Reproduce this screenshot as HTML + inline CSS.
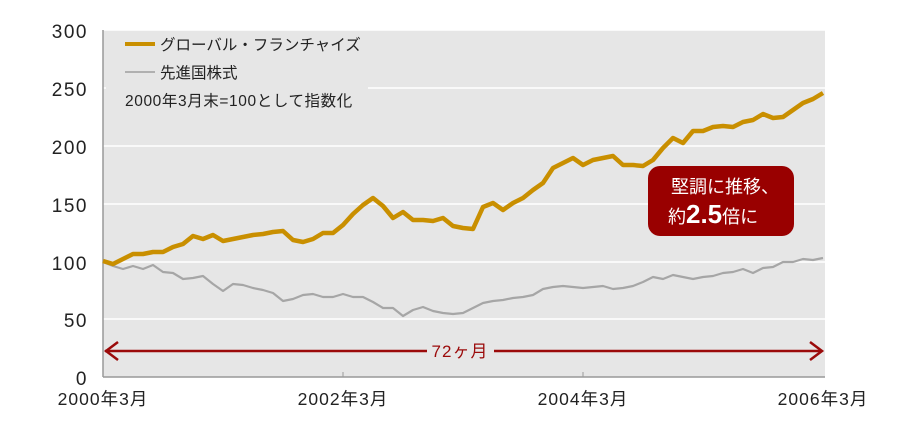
<!DOCTYPE html>
<html><head><meta charset="utf-8"><style>
html,body{margin:0;padding:0;background:#fff;width:920px;height:430px;overflow:hidden}
text{font-family:"Liberation Sans","Noto Sans CJK JP",sans-serif}
</style></head><body>
<svg width="920" height="430" viewBox="0 0 920 430" xmlns="http://www.w3.org/2000/svg">
<rect x="103" y="30" width="722" height="347" fill="#e6e6e6"/>
<g stroke="#fff" stroke-width="1.5">
<line x1="103" y1="30" x2="825" y2="30"/>
<line x1="103" y1="88" x2="825" y2="88"/>
<line x1="103" y1="146" x2="825" y2="146"/>
<line x1="103" y1="204" x2="825" y2="204"/>
<line x1="103" y1="262" x2="825" y2="262"/>
<line x1="103" y1="319" x2="825" y2="319"/>
</g>
<rect x="106" y="32" width="262" height="80" fill="#e6e6e6"/>
<line x1="103" y1="30" x2="103" y2="377" stroke="#999" stroke-width="1.5"/>
<line x1="103" y1="377" x2="825" y2="377" stroke="#999" stroke-width="1.5"/>
<g stroke="#999" stroke-width="1"><line x1="343" y1="372" x2="343" y2="377"/><line x1="583" y1="372" x2="583" y2="377"/></g>
<g font-size="19" fill="#222" text-anchor="end" letter-spacing="1.5">
<text x="88" y="38">300</text><text x="88" y="96">250</text><text x="88" y="154">200</text>
<text x="88" y="212">150</text><text x="88" y="270">100</text><text x="88" y="327">50</text><text x="88" y="385">0</text>
</g>
<g font-size="17.5" fill="#222" text-anchor="middle" letter-spacing="1">
<text x="103" y="405">2000年3月</text><text x="343" y="405">2002年3月</text><text x="583" y="405">2004年3月</text><text x="823" y="405">2006年3月</text>
</g>
<polyline fill="none" stroke="#a6a6a6" stroke-width="2.2" stroke-linejoin="round" points="103,262 113,266 123,269 133,266 143,269 153,265 163,272 173,273 183,279 193,278 203,276 213,284 223,291 233,284 243,285 253,288 263,290 273,293 283,301 293,299 303,295 313,294 323,297 333,297 343,294 353,297 363,297 373,302 383,308 393,308 403,316 413,310 423,307 433,311 443,313 453,314 463,313 473,308 483,303 493,301 503,300 513,298 523,297 533,295 543,289 553,287 563,286 573,287 583,288 593,287 603,286 613,289 623,288 633,286 643,282 653,277 663,279 673,275 683,277 693,279 703,277 713,276 723,273 733,272 743,269 753,273 763,268 773,267 783,262 793,262 803,259 813,260 823,258"/>
<polyline fill="none" stroke="#c98f00" stroke-width="4.5" stroke-linejoin="round" points="103,261 113,264 123,259 133,254 143,254 153,252 163,252 173,247 183,244 193,236 203,239 213,235 223,241 233,239 243,237 253,235 263,234 273,232 283,231 293,240 303,242 313,239 323,233 333,233 343,225 353,214 363,205 373,198 383,206 393,218 403,212 413,220 423,220 433,221 443,218 453,226 463,228 473,229 483,207 493,203 503,210 513,203 523,198 533,190 543,183 553,168 563,163 573,158 583,165 593,160 603,158 613,156 623,165 633,165 643,166 653,160 663,148 673,138 683,143 693,131 703,131 713,127 723,126 733,127 743,122 753,120 763,114 773,118 783,117 793,110 803,103 813,99 823,93"/>
<line x1="125" y1="44" x2="155" y2="44" stroke="#c98f00" stroke-width="4"/>
<line x1="125" y1="72" x2="155" y2="72" stroke="#b0b0b0" stroke-width="2"/>
<g font-size="15.5" fill="#222">
<text x="160" y="50">グローバル・フランチャイズ</text>
<text x="160" y="78">先進国株式</text>
<text x="125" y="106" letter-spacing="0.6">2000年3月末=100として指数化</text>
</g>
<g stroke="#9b0a0a" stroke-width="2.5" fill="none">
<line x1="105" y1="351" x2="427" y2="351"/>
<line x1="494" y1="351" x2="821" y2="351"/>
<polyline points="118,342 106,351 118,360"/>
<polyline points="810,342 822,351 810,360"/>
</g>
<text x="460" y="357" font-size="17" fill="#9b0a0a" text-anchor="middle" letter-spacing="1">72ヶ月</text>
<rect x="648" y="166" width="146" height="70" rx="12" fill="#990000"/>
<text x="671" y="193" font-size="18" fill="#fff">堅調に推移、</text>
<text x="668" y="223" font-size="18" fill="#fff">約<tspan font-size="26" font-weight="bold">2.5</tspan>倍に</text>
</svg>
</body></html>
